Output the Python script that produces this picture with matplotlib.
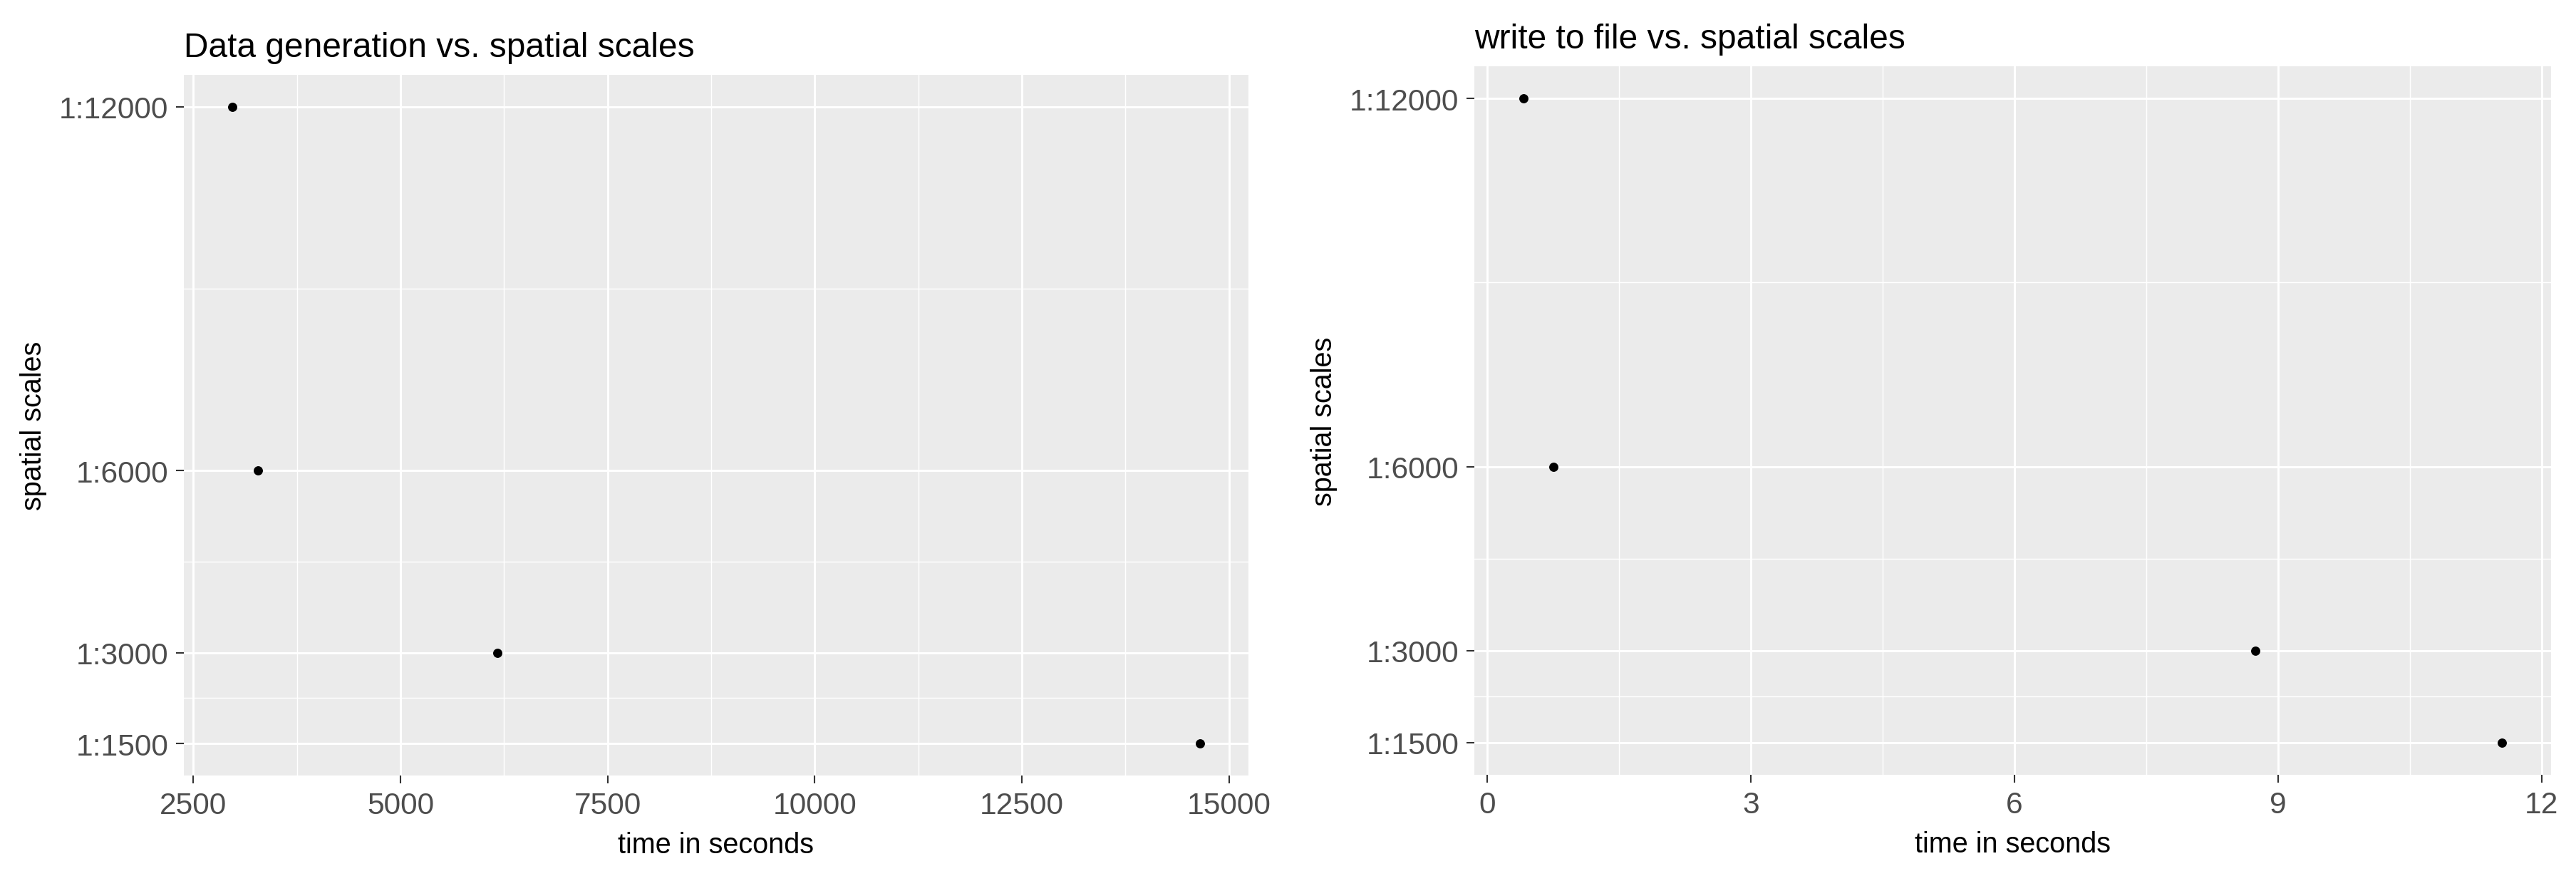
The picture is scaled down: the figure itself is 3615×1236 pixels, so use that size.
import numpy as np
import matplotlib.pyplot as plt
from matplotlib.ticker import FixedLocator

plt.rcParams['font.family'] = ['Liberation Sans', 'DejaVu Sans']

# spatial scale denominators (1:N)
scales = [12000, 6000, 3000, 1500]
scale_labels = ['1:12000', '1:6000', '1:3000', '1:1500']

# seconds spent per scale
gen_time = [2970, 3280, 6170, 14650]
write_time = [0.41, 0.75, 8.74, 11.55]

x_breaks_gen = [2500, 5000, 7500, 10000, 12500, 15000]
x_breaks_write = [0, 3, 6, 9, 12]

bg = '#EBEBEB'
tick_col = '#4D4D4D'


def expand(vals, f=0.05):
    lo, hi = min(vals), max(vals)
    d = (hi - lo) * f
    return lo - d, hi + d


def minors(breaks, lim, regular=True):
    b = np.asarray(breaks, dtype=float)
    mids = list((b[:-1] + b[1:]) / 2)
    if regular:
        step = b[1] - b[0]
        mids += [b[0] - step / 2, b[-1] + step / 2]
    return [m for m in mids if lim[0] <= m <= lim[1]]


def ggpanel(ax, x, y, xbreaks, title):
    ax.set_facecolor(bg)
    xl = expand(x)
    yl = expand(y)
    ax.set_xlim(xl)
    ax.set_ylim(yl)
    ax.set_xticks(xbreaks)
    ax.set_xticklabels([str(v) for v in xbreaks])
    ax.set_yticks(scales)
    ax.set_yticklabels(scale_labels)
    ax.xaxis.set_minor_locator(FixedLocator(minors(xbreaks, xl)))
    ax.yaxis.set_minor_locator(FixedLocator(minors(sorted(scales), yl, False)))
    ax.grid(which='major', color='white', linewidth=0.7)
    ax.grid(which='minor', color='white', linewidth=0.35)
    ax.set_axisbelow(True)
    for s in ax.spines.values():
        s.set_visible(False)
    ax.tick_params(which='major', length=2.6, width=0.5, color='#333333',
                   labelcolor=tick_col, labelsize=10.2, pad=2.6)
    ax.tick_params(which='minor', length=0)
    ax.plot(x, y, 'o', color='black', markersize=3.1, markeredgewidth=0)
    ax.set_xlabel('time in seconds', fontsize=9.5, labelpad=4)
    ax.set_ylabel('spatial scales', fontsize=9.5, labelpad=4)
    ax.set_title(title, loc='left', fontsize=11.5, pad=6.3)


fig = plt.figure(figsize=(12.05, 4.1233), dpi=300)
ax1 = fig.add_axes([258 / 3615, 1 - 1089 / 1237, 1494 / 3615, 983 / 1237])
ax2 = fig.add_axes([2069 / 3615, 1 - 1088 / 1237, 1511 / 3615, 994 / 1237])

ggpanel(ax1, gen_time, scales, x_breaks_gen, 'Data generation vs. spatial scales')
ggpanel(ax2, write_time, scales, x_breaks_write, 'write to file vs. spatial scales')

fig.savefig('out.png', dpi=300, facecolor='white')
